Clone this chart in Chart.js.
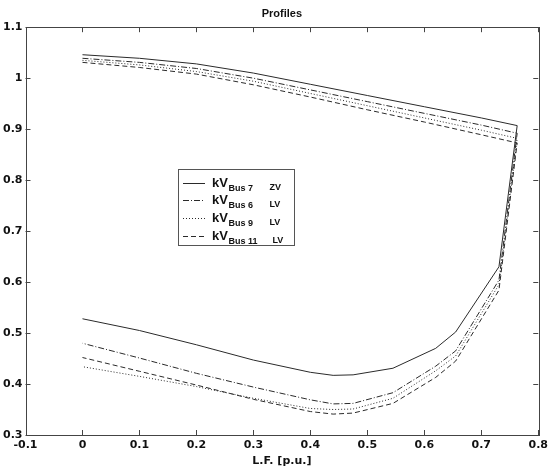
<!DOCTYPE html>
<html>
<head>
<meta charset="utf-8">
<script src="https://cdn.jsdelivr.net/npm/chart.js@4/dist/chart.umd.min.js"></script>
<style>
  html, body { margin: 0; padding: 0; background: #fff; }
</style>
</head>
<body>
<canvas id="profileChart" width="552" height="470"></canvas>
<script>
// load factor points, upper branch then lower branch of the nose curve
const lfUpper = [0, 0.1, 0.2, 0.3, 0.4, 0.5, 0.6, 0.7, 0.763];
const lfLower = [0.731, 0.655, 0.62, 0.545, 0.475, 0.44, 0.4, 0.3, 0.2, 0.1, 0];

const bus7Upper  = [1.046, 1.039, 1.028, 1.010, 0.988, 0.966, 0.944, 0.922, 0.907];
const bus7Lower  = [0.630, 0.502, 0.470, 0.431, 0.418, 0.417, 0.423, 0.447, 0.477, 0.505, 0.528];
const bus6Upper  = [1.039, 1.031, 1.019, 1.000, 0.977, 0.954, 0.931, 0.908, 0.892];
const bus6Lower  = [0.604, 0.465, 0.435, 0.383, 0.362, 0.361, 0.369, 0.394, 0.421, 0.451, 0.480];
const bus9Upper  = [1.035, 1.026, 1.013, 0.994, 0.970, 0.946, 0.922, 0.898, 0.882];
const bus9Lower  = [0.595, 0.455, 0.426, 0.372, 0.351, 0.350, 0.352, 0.372, 0.395, 0.415, 0.434];
const bus11Upper = [1.031, 1.021, 1.008, 0.987, 0.963, 0.938, 0.914, 0.889, 0.873];
const bus11Lower = [0.584, 0.445, 0.413, 0.362, 0.343, 0.341, 0.346, 0.370, 0.398, 0.425, 0.452];

const busNames = ['Bus 7', 'Bus 6', 'Bus 9', 'Bus 11'];
const busTypes = ['ZV', 'LV', 'LV', 'LV'];
const dashes = [[], [6, 2, 1, 2], [1, 2], [5, 3]];
const lineColor = '#2a2a2a';
const font = '"Liberation Sans", Arial, sans-serif';
const axisFont = '"DejaVu Sans", sans-serif';

function toPoints(upper, lower) {
  const pts = lfUpper.map((x, i) => ({ x: x, y: upper[i] }));
  return pts.concat(lfLower.map((x, i) => ({ x: x, y: lower[i] })));
}

const seriesData = [
  toPoints(bus7Upper, bus7Lower),
  toPoints(bus6Upper, bus6Lower),
  toPoints(bus9Upper, bus9Lower),
  toPoints(bus11Upper, bus11Lower)
];

// matlab style box with inward ticks on all four sides
const frameTicks = {
  id: 'frameTicks',
  afterDatasetsDraw(chart) {
    const { ctx, chartArea: a, scales: { x, y } } = chart;
    const len = 5;
    ctx.save();
    ctx.strokeStyle = '#444';
    ctx.lineWidth = 1;
    ctx.strokeRect(Math.round(a.left) + 0.5, Math.round(a.top) + 0.5,
      Math.round(a.right - a.left), Math.round(a.bottom - a.top));
    ctx.beginPath();
    x.ticks.forEach(t => {
      const px = Math.round(x.getPixelForValue(t.value)) + 0.5;
      ctx.moveTo(px, a.bottom); ctx.lineTo(px, a.bottom - len);
      ctx.moveTo(px, a.top); ctx.lineTo(px, a.top + len);
    });
    y.ticks.forEach(t => {
      const py = Math.round(y.getPixelForValue(t.value)) + 0.5;
      ctx.moveTo(a.left, py); ctx.lineTo(a.left + len, py);
      ctx.moveTo(a.right, py); ctx.lineTo(a.right - len, py);
    });
    ctx.stroke();
    ctx.restore();
  }
};

// legend with subscripted bus names
const subLegend = {
  id: 'subLegend',
  afterDraw(chart) {
    const ctx = chart.ctx;
    const bx = 178.5, by = 169.5, bw = 116, bh = 76;
    ctx.save();
    ctx.fillStyle = '#fff';
    ctx.fillRect(bx, by, bw, bh);
    ctx.strokeStyle = '#555';
    ctx.lineWidth = 1;
    ctx.strokeRect(bx, by, bw, bh);
    busNames.forEach((name, i) => {
      const ly = Math.round(182.5 + i * 17.8) + 0.5;
      ctx.strokeStyle = lineColor;
      ctx.setLineDash(dashes[i]);
      ctx.beginPath();
      ctx.moveTo(183, ly);
      ctx.lineTo(205, ly);
      ctx.stroke();
      ctx.setLineDash([]);
      ctx.fillStyle = '#111';
      ctx.textBaseline = 'alphabetic';
      ctx.textAlign = 'left';
      ctx.font = 'bold 13px ' + font;
      ctx.fillText('kV', 212, ly + 3);
      ctx.font = 'bold 9px ' + font;
      ctx.fillText(name, 228.5, ly + 7);
      ctx.fillText(busTypes[i], i === 3 ? 272.5 : 269.5, ly + 6);
    });
    ctx.restore();
  }
};

const datasets = seriesData.map((pts, i) => ({
  label: 'kV ' + busNames[i] + ' ' + busTypes[i],
  data: pts,
  showLine: true,
  borderColor: lineColor,
  borderWidth: 1,
  borderDash: dashes[i],
  pointRadius: 0,
  fill: false,
  tension: 0
}));

const chart = new Chart(document.getElementById('profileChart'), {
  type: 'scatter',
  data: { datasets: datasets },
  options: {
    responsive: false,
    animation: false,
    layout: { padding: { top: 0, right: 9, left: 0, bottom: 0 } },
    plugins: {
      legend: { display: false },
      tooltip: { enabled: false },
      title: {
        display: true,
        text: 'Profiles',
        fullSize: false,
        color: '#111',
        font: { family: font, size: 11, weight: 'bold' },
        padding: { top: 7, bottom: 7 }
      }
    },
    scales: {
      x: {
        type: 'linear',
        min: -0.1,
        max: 0.8,
        afterFit: s => { s.height = 35; },
        grid: { display: false, drawTicks: false },
        border: { display: false },
        ticks: {
          stepSize: 0.1,
          padding: 4,
          color: '#111',
          font: { family: axisFont, size: 11, weight: 'bold' },
          callback: v => String(+v.toFixed(1))
        },
        title: {
          display: true,
          text: 'L.F. [p.u.]',
          color: '#111',
          font: { family: axisFont, size: 11, weight: 'bold' },
          padding: { top: 0, bottom: 2 }
        }
      },
      y: {
        min: 0.3,
        max: 1.1,
        afterFit: s => { s.width = 25.5; },
        grid: { display: false, drawTicks: false },
        border: { display: false },
        ticks: {
          stepSize: 0.1,
          padding: 3,
          color: '#111',
          font: { family: axisFont, size: 11, weight: 'bold' },
          callback: v => String(+v.toFixed(1))
        }
      }
    }
  },
  plugins: [frameTicks, subLegend]
});
</script>
</body>
</html>
